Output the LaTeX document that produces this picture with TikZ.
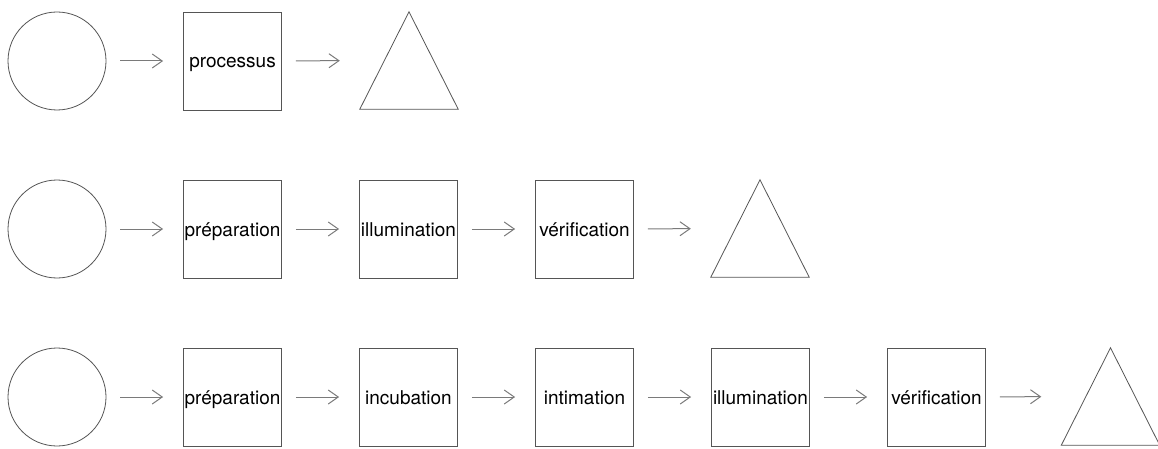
\documentclass[tikz,border=0pt]{standalone}
\usepackage{fontspec}
\setmainfont{TeX Gyre Heros}
\usetikzlibrary{arrows.meta}
\definecolor{edge}{HTML}{555555}
\definecolor{arrowgray}{HTML}{7a7a7a}
\begin{document}
\begin{tikzpicture}[x=1pt,y=-1pt,
  startnode/.style={circle,draw=edge,line width=0.8pt,minimum size=98pt,inner sep=0pt},
  stepbox/.style={rectangle,draw=edge,line width=0.8pt,minimum size=98pt,inner sep=0pt,
    text height=14pt,text depth=0pt,font=\fontsize{19pt}{22pt}\selectfont},
  endframe/.style={rectangle,draw=none,minimum width=98pt,minimum height=97pt,inner sep=0pt},
  endtri/.style={draw=edge,line width=0.8pt,line join=miter},
  flow/.style={draw=arrowgray,line width=1pt,-{Straight Barb[length=10pt,width=14pt,line width=1pt]},
    shorten <=14pt,shorten >=20pt}]
\useasboundingbox (0,0) rectangle (1158,449);

% first row: one step
\node[startnode] (a0) at (57,61) {};
\node[stepbox] (a1) at (232.5,61) {processus};
\node[endframe] (a2) at (409,60.5) {};
\draw[endtri] (a2.north) -- (a2.south east) -- (a2.south west) -- cycle;
\draw[flow] (a0) -- (a1);
\draw[flow] (a1) -- (a2);

% second row: three steps
\node[startnode] (b0) at (57,229) {};
\node[stepbox] (b1) at (232.5,229) {préparation};
\node[stepbox] (b2) at (408.5,229) {illumination};
\node[stepbox] (b3) at (584.5,229) {vérification};
\node[endframe] (b4) at (760,228.5) {};
\draw[endtri] (b4.north) -- (b4.south east) -- (b4.south west) -- cycle;
\draw[flow] (b0) -- (b1);
\draw[flow] (b1) -- (b2);
\draw[flow] (b2) -- (b3);
\draw[flow] (b3) -- (b4);

% third row: five steps
\node[startnode] (c0) at (57,397) {};
\node[stepbox] (c1) at (232.5,397) {préparation};
\node[stepbox] (c2) at (408.5,397) {incubation};
\node[stepbox] (c3) at (584.5,397) {intimation};
\node[stepbox] (c4) at (760.5,397) {illumination};
\node[stepbox] (c5) at (936.5,397) {vérification};
\node[endframe] (c6) at (1110.5,396.5) {};
\draw[endtri] (c6.north) -- (c6.south east) -- (c6.south west) -- cycle;
\draw[flow] (c0) -- (c1);
\draw[flow] (c1) -- (c2);
\draw[flow] (c2) -- (c3);
\draw[flow] (c3) -- (c4);
\draw[flow] (c4) -- (c5);
\draw[flow] (c5) -- (c6);
\end{tikzpicture}
\end{document}
